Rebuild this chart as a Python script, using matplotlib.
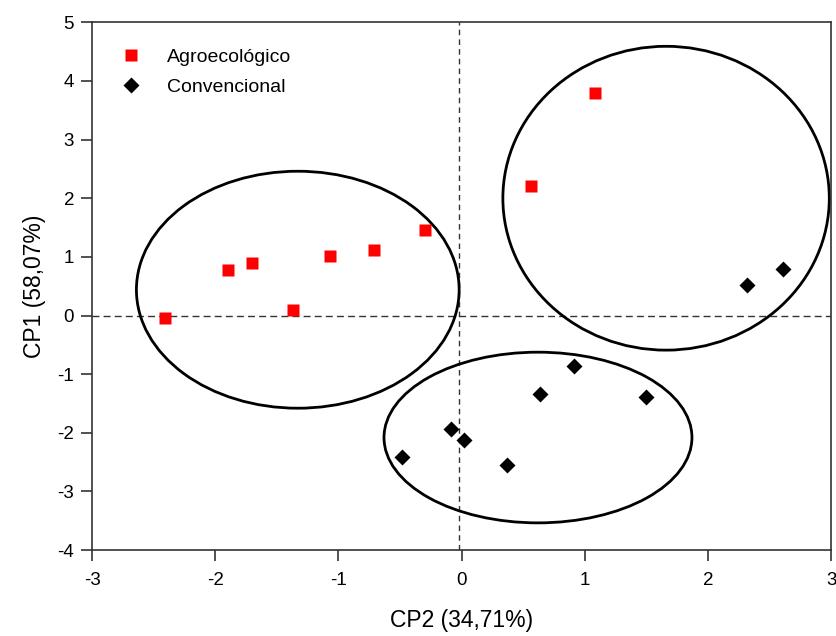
import matplotlib
matplotlib.use("Agg")
import matplotlib.pyplot as plt
from matplotlib.patches import Ellipse

plt.rcParams['font.family'] = ['Liberation Sans', 'DejaVu Sans']
plt.rcParams['axes.unicode_minus'] = False

# CP2 (x), CP1 (y)
agro_x = [-2.41, -1.90, -1.70, -1.37, -1.07, -0.71, -0.30, 0.56, 1.08]
agro_y = [-0.05, 0.77, 0.89, 0.09, 1.02, 1.11, 1.45, 2.20, 3.79]
conv_x = [2.32, 2.61, -0.48, -0.09, 0.02, 0.37, 0.64, 0.91, 1.50]
conv_y = [0.52, 0.79, -2.41, -1.94, -2.13, -2.54, -1.33, -0.86, -1.39]

# grupos (centro x, centro y, largura, altura)
grupos = [(-1.33, 0.44, 2.62, 4.04),
          (1.66, 2.00, 2.65, 5.18),
          (0.62, -2.08, 2.50, 2.91)]

fig = plt.figure(figsize=(8.37, 6.36), dpi=100)
ax = fig.add_axes([0.110, 0.135, 0.883, 0.830])

ax.axhline(0, color='#333333', lw=1, ls=(0, (5, 3)), zorder=1)
ax.axvline(-0.02, color='#333333', lw=1, ls=(0, (4, 3)), zorder=1)

for cx, cy, w, h in grupos:
    ax.add_patch(Ellipse((cx, cy), w, h, fill=False, ec='black', lw=2, zorder=2))

ax.plot(agro_x, agro_y, 's', color='#ff0000', ms=9, mec='none', label='Agroecológico', zorder=3)
ax.plot(conv_x, conv_y, 'D', color='black', ms=8.5, mec='none', label='Convencional', zorder=3)

ax.set_xlim(-3, 3)
ax.set_ylim(-4, 5)
ax.set_xticks(range(-3, 4))
ax.set_yticks(range(-4, 6))
ax.tick_params(direction='out', length=8, width=1.2, color='#333333', labelsize=13.5, pad=5)
ax.tick_params(axis='x', pad=8)
for s in ax.spines.values():
    s.set_color('#333333')
    s.set_linewidth(1.2)

ax.set_xlabel('CP2 (34,71%)', fontsize=16.5, labelpad=14)
ax.set_ylabel('CP1 (58,07%)', fontsize=16.5, labelpad=8)

ax.legend(loc='upper left', frameon=False, fontsize=14, handlelength=1.5,
          handletextpad=1.1, borderpad=0, borderaxespad=0,
          bbox_to_anchor=(0.0325, 0.95), labelspacing=0.62)

fig.savefig('out.png', dpi=100)
